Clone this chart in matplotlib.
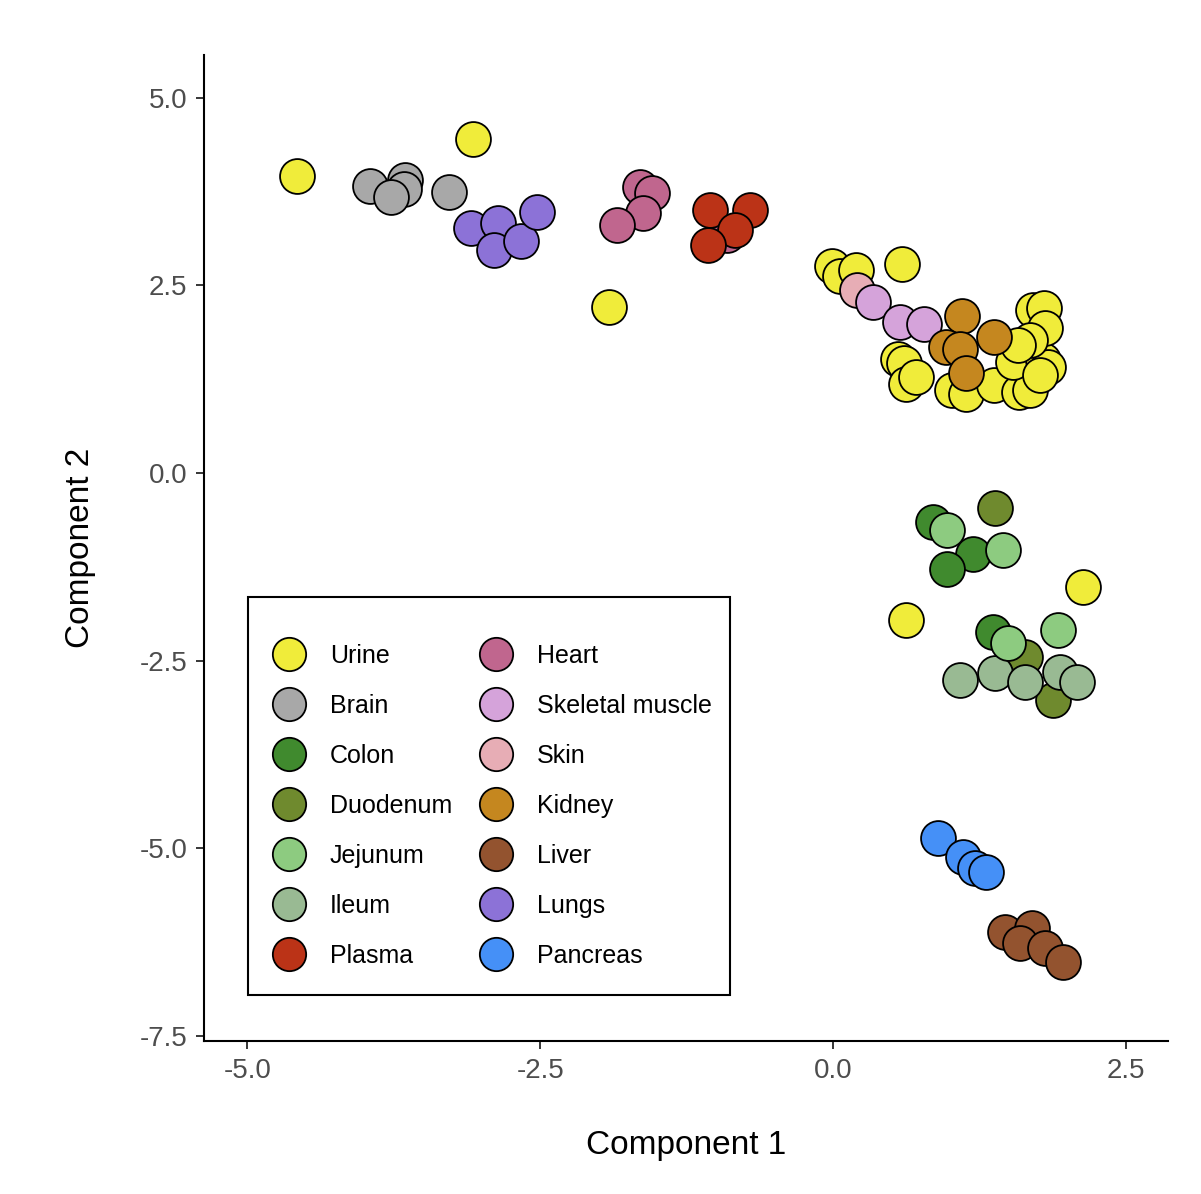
import matplotlib
matplotlib.use("Agg")
import matplotlib.pyplot as plt
from matplotlib.lines import Line2D
from matplotlib.patches import Rectangle

plt.rcParams["font.family"] = ["Liberation Sans", "DejaVu Sans"]

# ───── data (Component 1, Component 2) per tissue ─────
urine_x = [-4.577, -3.074, -1.913, 0.623, 2.135, -0.009, 0.060, 0.196, 0.589,
           0.555, 0.606, 0.623, 0.709, 1.016, 1.136, 1.375, 1.588, 1.682,
           1.537, 1.793, 1.836, 1.708, 1.802, 1.810, 1.682, 1.580, 1.768]
urine_y = [3.96, 4.45, 2.21, -1.96, -1.52, 2.76, 2.63, 2.71, 2.79,
           1.52, 1.47, 1.19, 1.28, 1.11, 1.05, 1.17, 1.08, 1.11,
           1.48, 1.51, 1.41, 2.17, 2.20, 1.93, 1.77, 1.71, 1.31]
brain_x = [-3.954, -3.655, -3.664, -3.775, -3.279]
brain_y = [3.83, 3.91, 3.79, 3.68, 3.75]
colon_x = [0.854, 1.196, 0.974, 1.366]
colon_y = [-0.65, -1.08, -1.28, -2.12]
duod_x = [1.383, 1.640, 1.879]
duod_y = [-0.47, -2.45, -3.03]
jej_x = [0.974, 1.452, 1.921, 1.494]
jej_y = [-0.76, -1.03, -2.09, -2.27]
ileum_x = [1.085, 1.383, 1.640, 1.938, 2.084]
ileum_y = [-2.76, -2.67, -2.79, -2.65, -2.79]
plasma_x = [-1.050, -0.709, -0.837, -1.067]
plasma_y = [3.51, 3.51, 3.24, 3.04]
heart_x = [-1.648, -1.546, -1.623, -1.845, -0.905]
heart_y = [3.81, 3.73, 3.47, 3.31, 3.17]
skm_x = [0.342, 0.572, 0.777]
skm_y = [2.28, 2.01, 1.99]
skin_x = [0.205]
skin_y = [2.44]
kidney_x = [1.102, 1.375, 0.965, 1.085, 1.136]
kidney_y = [2.09, 1.81, 1.68, 1.65, 1.33]
liver_x = [1.469, 1.699, 1.597, 1.810, 1.964]
liver_y = [-6.12, -6.07, -6.27, -6.33, -6.52]
lungs_x = [-3.091, -2.861, -2.895, -2.664, -2.528]
lungs_y = [3.27, 3.33, 2.97, 3.09, 3.48]
panc_x = [0.897, 1.110, 1.213, 1.307]
panc_y = [-4.87, -5.12, -5.27, -5.32]

tissues = ["Urine", "Brain", "Colon", "Duodenum", "Jejunum", "Ileum", "Plasma",
           "Heart", "Skeletal muscle", "Skin", "Kidney", "Liver", "Lungs", "Pancreas"]
colors = ["#F0EC3A", "#A8A8A8", "#408A2E", "#6F8A2E", "#8DCB80", "#99BA93", "#BB3317",
          "#C0668E", "#D5A3DA", "#E7ADB5", "#C5871F", "#93532F", "#8C72D7", "#4590F7"]
xs = [urine_x, brain_x, colon_x, duod_x, jej_x, ileum_x, plasma_x,
      heart_x, skm_x, skin_x, kidney_x, liver_x, lungs_x, panc_x]
ys = [urine_y, brain_y, colon_y, duod_y, jej_y, ileum_y, plasma_y,
      heart_y, skm_y, skin_y, kidney_y, liver_y, lungs_y, panc_y]
draw_order = ["Urine", "Brain", "Heart", "Colon", "Duodenum", "Ileum", "Jejunum",
              "Plasma", "Skin", "Skeletal muscle", "Kidney", "Liver", "Lungs", "Pancreas"]

# ───── figure ─────
fig = plt.figure(figsize=(12.01, 11.94), dpi=100)
ax = fig.add_axes([0.1699, 0.1281, 0.9725 - 0.1699, 0.9539 - 0.1281])

for name in draw_order:
    i = tissues.index(name)
    ax.scatter(xs[i], ys[i], s=630, c=colors[i], edgecolors="black",
               linewidths=1.3, zorder=2 + draw_order.index(name) * 0.01)

ax.set_xlim(-5.37, 2.86)
ax.set_ylim(-7.57, 5.57)
ax.set_xticks([-5.0, -2.5, 0.0, 2.5])
ax.set_yticks([5.0, 2.5, 0.0, -2.5, -5.0, -7.5])
ax.set_xticklabels(["-5.0", "-2.5", "0.0", "2.5"])
ax.set_yticklabels(["5.0", "2.5", "0.0", "-2.5", "-5.0", "-7.5"])
ax.tick_params(labelsize=20, colors="#4D4D4D", length=6, width=1.1, pad=6)
ax.tick_params(axis="both", color="black")
for s in ["top", "right"]:
    ax.spines[s].set_visible(False)
for s in ["left", "bottom"]:
    ax.spines[s].set_linewidth(1.5)

ax.set_xlabel("Component 1", fontsize=24, labelpad=33)
ax.set_ylabel("Component 2", fontsize=24, labelpad=31)

# ───── legend (box drawn separately, ggplot-style padding) ─────
handles = [Line2D([], [], ls="none", marker="o", markersize=24, markerfacecolor=c,
                  markeredgecolor="black", markeredgewidth=1.3) for c in colors]
leg = ax.legend(handles, tissues, ncol=2, loc="lower left",
                bbox_to_anchor=(0.0456, 0.0538), borderaxespad=0,
                fontsize=18, frameon=False,
                labelspacing=1.04, handletextpad=0.8, columnspacing=0.9,
                borderpad=0.8, handlelength=1.68)
leg.set_zorder(10)
ax.add_patch(Rectangle((0.0456, 0.0467), 0.5456 - 0.0456, 0.4503 - 0.0467,
                       transform=ax.transAxes, fill=True, facecolor="white",
                       edgecolor="black", linewidth=1.5, zorder=9))

fig.savefig("out.png", dpi=100)
